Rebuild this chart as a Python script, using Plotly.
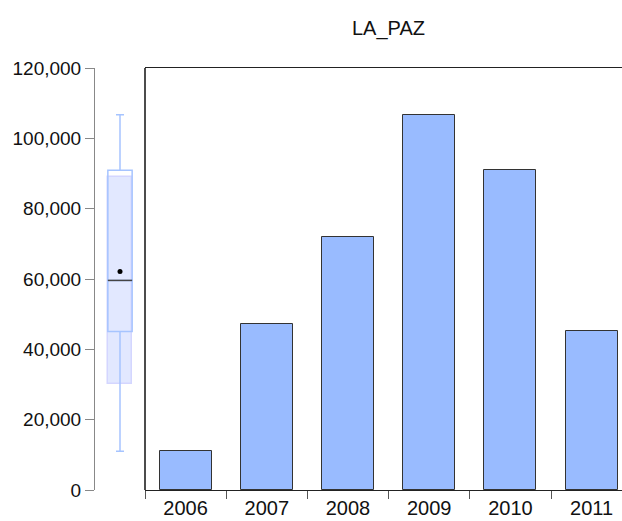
import numpy as np
import plotly.graph_objects as go

# ---- data ----
years = ["2006", "2007", "2008", "2009", "2010", "2011"]
la_paz = [11000, 47300, 71900, 106700, 90900, 45100]
title_text = "LA_PAZ"
y_ticks = [0, 20000, 40000, 60000, 80000, 100000, 120000]

# ---- summary statistics for the box plot (computed from the data) ----
vals = np.array(la_paz, dtype=float)
q1, q3 = np.percentile(vals, [25, 75], method="inverted_cdf")
med = float(np.median(vals))
mean = float(vals.mean())
iqr = q3 - q1
lo_fence = float(vals[vals >= q1 - 1.5 * iqr].min())
hi_fence = float(vals[vals <= q3 + 1.5 * iqr].max())
ci_half = 1.57 * iqr / np.sqrt(len(vals))
ci_lo, ci_hi = med - ci_half, med + ci_half

W, H = 622, 521
ML, MT, MB, MR = 95, 68, 31, 0
plot_w = W - ML - MR
box_px = 50
split = box_px / plot_w
cat_px = 81.2
n_vis = (plot_w - box_px) / cat_px
BW = 0.486

fig = go.Figure()

# bars
fig.add_trace(go.Bar(
    x=years, y=la_paz, xaxis="x", yaxis="y", width=0.64,
    marker=dict(color="rgb(153,187,255)", line=dict(color="#333333", width=1)),
    hoverinfo="x+y", showlegend=False,
))

# median confidence interval shading
fig.add_trace(go.Bar(
    x=[0], y=[ci_hi - ci_lo], base=[ci_lo], xaxis="x2", yaxis="y", width=BW,
    marker=dict(color="rgba(224,231,255,0.95)", line=dict(color="rgb(212,214,255)", width=1.5)),
    showlegend=False, hoverinfo="skip",
))

# box plot
fig.add_trace(go.Box(
    x=[0], q1=[q1], median=[med], q3=[q3], lowerfence=[lo_fence], upperfence=[hi_fence],
    xaxis="x2", yaxis="y", width=BW, whiskerwidth=0.33,
    fillcolor="rgba(0,0,0,0)", line=dict(color="rgb(166,196,255)", width=1.5),
    showlegend=False,
))

# median line and mean dot
fig.add_trace(go.Scatter(
    x=[-BW / 2, BW / 2], y=[med, med], xaxis="x2", yaxis="y", mode="lines",
    line=dict(color="#444444", width=1.5), showlegend=False, hoverinfo="skip",
))
fig.add_trace(go.Scatter(
    x=[0], y=[mean], xaxis="x2", yaxis="y", mode="markers",
    marker=dict(color="black", size=5), showlegend=False,
))

fig.update_layout(
    width=W, height=H,
    margin=dict(l=ML, r=MR, t=MT, b=MB, pad=0, autoexpand=False),
    paper_bgcolor="white", plot_bgcolor="white",
    font=dict(family="Liberation Sans, Arial, sans-serif", color="#111111"),
    bargap=0,
    xaxis=dict(
        domain=[split, 1], anchor="y", type="category", automargin=False,
        range=[-0.5, -0.5 + n_vis],
        tickson="boundaries", ticks="outside", ticklen=8, tickcolor="#555555",
        showline=True, linecolor="#222222", linewidth=1, mirror=True,
        showgrid=False, zeroline=False,
        tickfont=dict(size=20, color="#111111"),
    ),
    xaxis2=dict(
        domain=[0, split], anchor="y", range=[-0.5, 0.5], automargin=False,
        showticklabels=False, showgrid=False, zeroline=False, showline=False, ticks="",
    ),
    yaxis=dict(
        domain=[0, 1], anchor="x2", range=[0, 120000], automargin=False,
        tickvals=y_ticks, tickformat=",d",
        ticks="outside", ticklen=9, tickcolor="#888888",
        showline=True, linecolor="#888888", linewidth=1,
        showgrid=False, zeroline=False,
        tickfont=dict(size=19, color="#111111"),
    ),
    shapes=[dict(
        type="line", xref="x domain", yref="y domain",
        x0=0, x1=0, y0=0, y1=1, line=dict(color="#111111", width=1.5),
    )],
    annotations=[dict(
        text=title_text, xref="paper", yref="paper",
        x=split + (1 - split) * (cat_px * 3) / (plot_w - box_px), y=1,
        xanchor="center", yanchor="bottom", yshift=26, showarrow=False,
        font=dict(size=20, color="#111111"),
    )],
)

fig.write_html("out.html", config={"displayModeBar": False})

# remove the default page margin so the figure sits at the window's top-left
with open("out.html", "r", encoding="utf-8") as f:
    html = f.read()
html = html.replace("<head>", "<head><style>html,body{margin:0;padding:0;overflow:hidden}</style>", 1)
with open("out.html", "w", encoding="utf-8") as f:
    f.write(html)
